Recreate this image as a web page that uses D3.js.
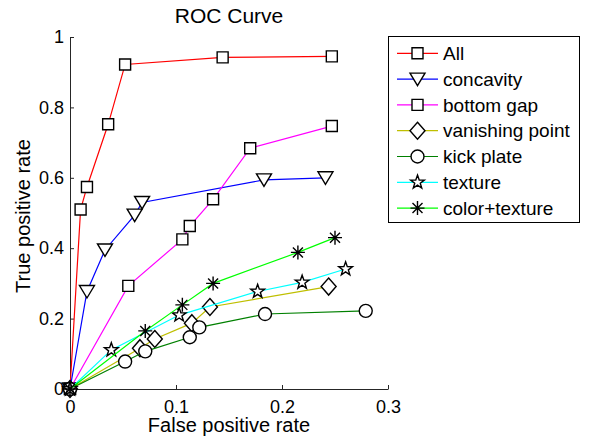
<!DOCTYPE html>
<html lang="en">
<head>
  <meta charset="UTF-8">
  <title>ROC Curve</title>
  <style>
    body { margin: 0; background: #fff; }
    svg { display: block; font-family: "Liberation Sans", Arial, sans-serif; }
    .axis path, .axis line { stroke: #262626; stroke-width: 1; }
    .axis text { font-size: 18px; fill: #000; }
    .series path.line { fill: none; stroke-width: 1.2; }
    .marker { fill: #fff; stroke: #000; stroke-width: 1.4; }
  </style>
</head>
<body>
  <div class="warp"></div>
  <script src="https://cdn.jsdelivr.net/npm/d3@7"></script>
  <script>
    // data (false positive rate / true positive rate)
    var seriesNames = ['All', 'concavity', 'bottom gap', 'vanishing point', 'kick plate', 'texture', 'color+texture'];

    var allFpr = [0, 0.010, 0.016, 0.036, 0.052, 0.144, 0.247];
    var allTpr = [0, 0.510, 0.574, 0.752, 0.922, 0.942, 0.945];

    var concavityFpr = [0, 0.016, 0.033, 0.061, 0.068, 0.183, 0.241];
    var concavityTpr = [0, 0.277, 0.395, 0.494, 0.530, 0.594, 0.600];

    var bottomGapFpr = [0, 0.055, 0.106, 0.113, 0.135, 0.170, 0.247];
    var bottomGapTpr = [0, 0.293, 0.425, 0.463, 0.539, 0.684, 0.747];

    var vanishingFpr = [0, 0.066, 0.080, 0.115, 0.132, 0.244];
    var vanishingTpr = [0, 0.116, 0.142, 0.187, 0.233, 0.291];

    var kickPlateFpr = [0, 0.052, 0.071, 0.113, 0.122, 0.184, 0.279];
    var kickPlateTpr = [0, 0.078, 0.107, 0.147, 0.175, 0.213, 0.222];

    var textureFpr = [0, 0.039, 0.103, 0.177, 0.219, 0.260];
    var textureTpr = [0, 0.111, 0.210, 0.277, 0.303, 0.341];

    var colorTextureFpr = [0, 0.071, 0.106, 0.135, 0.215, 0.250];
    var colorTextureTpr = [0, 0.165, 0.239, 0.300, 0.388, 0.430];

    var xTicks = [0, 0.1, 0.2, 0.3];
    var yTicks = [0, 0.2, 0.4, 0.6, 0.8, 1];

    var colors = ['#ff0000', '#0000ff', '#ff00ff', '#bfbf00', '#008000', '#00ffff', '#00ff00'];
    var markers = ['square', 'triangle', 'square', 'diamond', 'circle', 'star', 'asterisk'];

    var fprs = [allFpr, concavityFpr, bottomGapFpr, vanishingFpr, kickPlateFpr, textureFpr, colorTextureFpr];
    var tprs = [allTpr, concavityTpr, bottomGapTpr, vanishingTpr, kickPlateTpr, textureTpr, colorTextureTpr];

    var series = seriesNames.map(function (name, i) {
      return {
        name: name,
        color: colors[i],
        marker: markers[i],
        points: fprs[i].map(function (f, k) { return { x: f, y: tprs[i][k] }; })
      };
    });

    // marker shapes, centred on 0,0
    function markerPath(type) {
      if (type === 'square') return 'M-5.5,-5.5h11v11h-11Z';
      if (type === 'triangle') return 'M-7.5,-6L7.5,-6L0,6.5Z';
      if (type === 'diamond') return 'M0,-8.5L7.5,0L0,8.5L-7.5,0Z';
      if (type === 'circle') return d3.symbol(d3.symbolCircle, Math.PI * 6.5 * 6.5)();
      if (type === 'star') {
        var p = [];
        for (var k = 0; k < 10; k++) {
          var r = k % 2 === 0 ? 7.2 : 2.9;
          var a = -Math.PI / 2 + k * Math.PI / 5;
          p.push([r * Math.cos(a), r * Math.sin(a)]);
        }
        return 'M' + p.join('L') + 'Z';
      }
      // asterisk
      return 'M0,-7V7M-7,0H7M-5,-5L5,5M-5,5L5,-5';
    }

    var width = 592, height = 439;
    var svg = d3.select('.warp').append('svg')
      .attr('width', width)
      .attr('height', height);

    var x = d3.scaleLinear().domain([0, 0.3]).range([70, 388]);
    var y = d3.scaleLinear().domain([0, 1]).range([389, 37]);

    svg.append('g')
      .attr('class', 'axis')
      .attr('transform', 'translate(0,' + y(0) + ')')
      .call(d3.axisBottom(x).tickValues(xTicks).tickFormat(function (d) { return String(d); })
        .tickSizeInner(-4).tickSizeOuter(0).tickPadding(11))
      .selectAll('text').attr('font-family', null);

    svg.append('g')
      .attr('class', 'axis')
      .attr('transform', 'translate(' + x(0) + ',0)')
      .call(d3.axisLeft(y).tickValues(yTicks).tickFormat(function (d) { return String(d); })
        .tickSizeInner(-4).tickSizeOuter(0).tickPadding(6))
      .selectAll('text').attr('font-family', null);

    svg.selectAll('.axis').attr('font-family', null);

    var line = d3.line().x(function (d) { return x(d.x); }).y(function (d) { return y(d.y); });

    series.forEach(function (s) {
      var g = svg.append('g').attr('class', 'series');
      g.append('path')
        .attr('class', 'line')
        .attr('d', line(s.points))
        .attr('stroke', s.color);
      g.selectAll('path.marker')
        .data(s.points)
        .enter()
        .append('path')
        .attr('class', 'marker')
        .attr('d', markerPath(s.marker))
        .attr('transform', function (d) { return 'translate(' + x(d.x) + ',' + y(d.y) + ')'; })
        .style('fill', s.marker === 'asterisk' ? 'none' : null);
    });

    // title and axis labels
    svg.append('text')
      .attr('x', (x.range()[0] + x.range()[1]) / 2)
      .attr('y', 23)
      .attr('text-anchor', 'middle')
      .style('font-size', '21px')
      .text('ROC Curve');

    svg.append('text')
      .attr('x', (x.range()[0] + x.range()[1]) / 2)
      .attr('y', 432)
      .attr('text-anchor', 'middle')
      .style('font-size', '20px')
      .text('False positive rate');

    svg.append('text')
      .attr('transform', 'translate(30,' + 216 + ') rotate(-90)')
      .attr('text-anchor', 'middle')
      .style('font-size', '20px')
      .text('True positive rate');

    // legend
    var legend = svg.append('g').attr('class', 'legend');
    legend.append('rect')
      .attr('x', 388.5).attr('y', 36.5)
      .attr('width', 191).attr('height', 186)
      .attr('fill', '#fff').attr('stroke', '#000').attr('stroke-width', 1);

    var rows = legend.selectAll('g.row')
      .data(series)
      .enter()
      .append('g')
      .attr('class', 'row')
      .attr('transform', function (d, i) { return 'translate(0,' + (53.3 + i * 25.8) + ')'; });
    rows.append('line')
      .attr('x1', 397).attr('x2', 438)
      .attr('stroke', function (d) { return d.color; })
      .attr('stroke-width', 1.2);
    rows.append('path')
      .attr('class', 'marker')
      .attr('d', function (d) { return markerPath(d.marker); })
      .attr('transform', 'translate(417.5,0)')
      .style('fill', function (d) { return d.marker === 'asterisk' ? 'none' : null; });
    rows.append('text')
      .attr('x', 443)
      .attr('dy', '0.35em')
      .style('font-size', '19px')
      .text(function (d) { return d.name; });
  </script>
</body>
</html>
